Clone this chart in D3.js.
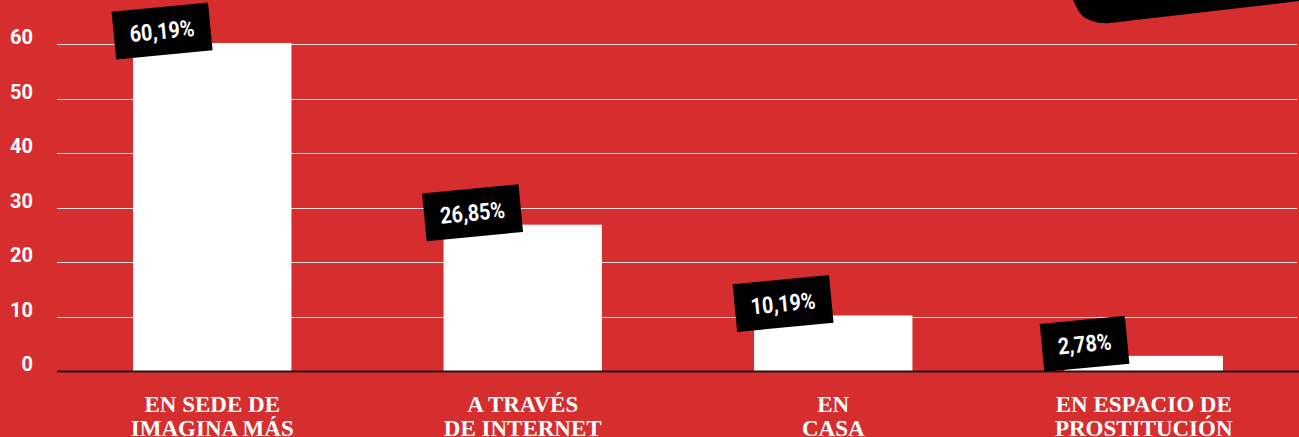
<!DOCTYPE html>
<html>
<head>
<meta charset="UTF-8">
<style>
    body { margin: 0; background: #d62e2e; }
    svg { display: block; }
    .tick-label { font-family: Roboto, sans-serif; font-weight: 700; font-size: 20px; fill: #fff; }
    .cat-label { font-family: "Liberation Serif", serif; font-weight: 700; font-size: 23px; fill: #fff; }
    .val-label { font-family: Roboto, sans-serif; font-weight: 700; font-size: 23px; fill: #fff; }
</style>
</head>
<body>
<script src="https://cdnjs.cloudflare.com/ajax/libs/d3/7.8.5/d3.min.js"></script>
<script>
// data
var categories = ["EN SEDE DE|IMAGINA MÁS", "A TRAVÉS|DE INTERNET", "EN|CASA", "EN ESPACIO DE|PROSTITUCIÓN"];
var values = [60.19, 26.85, 10.19, 2.78];
var valueLabels = ["60,19%", "26,85%", "10,19%", "2,78%"];
var yTicks = [0, 10, 20, 30, 40, 50, 60];

var width = 1299, height = 437;
var svg = d3.select("body").append("svg").attr("width", width).attr("height", height);

svg.append("rect").attr("width", width).attr("height", height).attr("fill", "#d62e2e");

// black shape peeking in at the top right
svg.append("path")
    .attr("d", "M1073,0 L1078,10 Q1082,18 1092,21 Q1100,24 1110,23 L1299,1 L1299,0 Z")
    .attr("fill", "#000");

var x = d3.scaleBand()
    .domain(categories)
    .range([57, 1299])
    .paddingInner(0.49)
    .paddingOuter(0.245);

var y = d3.scaleLinear().domain([0, 60]).range([371, 44]);

// grid
svg.append("g").selectAll("line")
    .data(yTicks.filter(function(d) { return d > 0; }))
    .enter().append("line")
    .attr("x1", 57).attr("x2", 1297)
    .attr("y1", function(d) { return Math.round(y(d)) + 0.5; })
    .attr("y2", function(d) { return Math.round(y(d)) + 0.5; })
    .attr("stroke", "#fff").attr("stroke-opacity", 0.85).attr("stroke-width", 1);

svg.append("g").selectAll("text")
    .data(yTicks)
    .enter().append("text")
    .attr("class", "tick-label")
    .attr("x", 33).attr("y", function(d) { return y(d); })
    .attr("text-anchor", "end")
    .text(function(d) { return d; });

// bars
svg.append("g").selectAll("rect")
    .data(values)
    .enter().append("rect")
    .attr("x", function(d, i) { return x(categories[i]); })
    .attr("y", function(d) { return y(d); })
    .attr("width", x.bandwidth())
    .attr("height", function(d) { return y(0) - y(d); })
    .attr("fill", "#fff");

// zero line
svg.append("line")
    .attr("x1", 57).attr("x2", 1299)
    .attr("y1", y(0) + 0.5).attr("y2", y(0) + 0.5)
    .attr("stroke", "#2a1414").attr("stroke-width", 2);

// category labels
var cats = svg.append("g").selectAll("text")
    .data(categories)
    .enter().append("text")
    .attr("class", "cat-label")
    .attr("text-anchor", "middle")
    .attr("x", function(d) { return x(d) + x.bandwidth() / 2; })
    .attr("y", 412);
cats.selectAll("tspan")
    .data(function(d) { return d.split("|").map(function(t) { return {t: t, x: x(d) + x.bandwidth() / 2}; }); })
    .enter().append("tspan")
    .attr("x", function(d) { return d.x; })
    .attr("dy", function(d, i) { return i ? 24 : 0; })
    .text(function(d) { return d.t; });

// value labels on rotated black boxes
var labels = svg.append("g").selectAll("g")
    .data(values)
    .enter().append("g")
    .attr("transform", function(d, i) {
        var cx = x(categories[i]) + (i === 3 ? 20 : 29);
        var cy = y(d) - 12;
        return "translate(" + cx + "," + cy + ") rotate(-5.5)";
    });

labels.each(function(d, i) {
    var g = d3.select(this);
    var rect = g.append("rect").attr("fill", "#000");
    var t = g.append("text")
        .attr("class", "val-label")
        .attr("text-anchor", "middle")
        .attr("dy", "0.35em")
        .attr("transform", "scale(0.86,1)")
        .text(valueLabels[i]);
    var w = t.node().getComputedTextLength() * 0.86 + 32;
    rect.attr("x", -w / 2).attr("y", -24).attr("width", w).attr("height", 48);
});
</script>
</body>
</html>
